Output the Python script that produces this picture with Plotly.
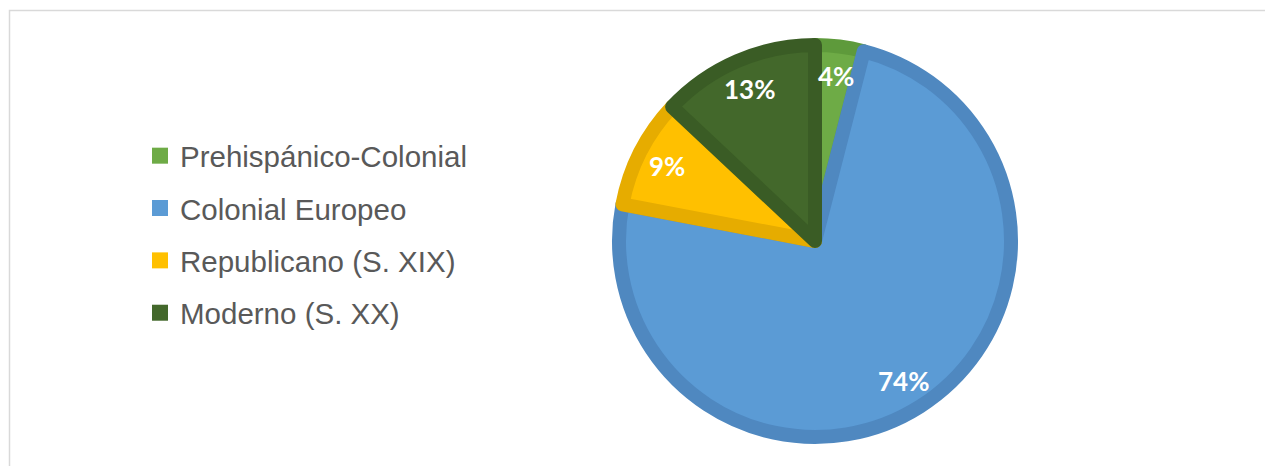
import math
import plotly.graph_objects as go

# ---- data ----
labels = ["Prehispánico-Colonial", "Colonial Europeo", "Republicano (S. XIX)", "Moderno (S. XX)"]
values = [4, 74, 9, 13]
pct_labels = ["4%", "74%", "9%", "13%"]

# ---- styles ----
fill_colors = ["#6EAB46", "#5B9BD5", "#FFC000", "#43682B"]
edge_colors = ["#5E9A3B", "#4F88C0", "#E6AC00", "#3A5C25"]

W, H = 1273, 466
OFF = 8                    # page body margin
cx, cy = 815 - OFF, 241 - OFF   # pie centre in figure pixels (from top-left)
line_w = 14
r_geom = 203 - line_w / 2  # geometric radius in pixels
label_r = 166              # radius for percent labels

fig = go.Figure()

fig.add_trace(go.Pie(
    labels=labels,
    values=values,
    sort=False,
    direction="clockwise",
    rotation=0,
    textinfo="none",
    hoverinfo="label+percent",
    marker=dict(colors=fill_colors, line=dict(color=edge_colors, width=line_w)),
    domain=dict(x=[(cx - r_geom) / W, (cx + r_geom) / W],
                y=[1 - (cy + r_geom) / H, 1 - (cy - r_geom) / H]),
    showlegend=False,
))

# legend entries (one group per category, to control spacing)
for lab, col in zip(labels, fill_colors):
    fig.add_trace(go.Scatter(
        x=[None], y=[None], mode="markers", name=lab, legendgroup=lab,
        marker=dict(symbol="square", size=16, color=col),
        showlegend=True,
    ))

# percent labels placed at the middle angle of each slice
total = sum(values)
cum = 0
annotations = []
for v, txt in zip(values, pct_labels):
    mid = (cum + v / 2) / total * 2 * math.pi
    cum += v
    px = cx + label_r * math.sin(mid)
    py = cy - label_r * math.cos(mid)
    annotations.append(dict(
        x=px / W, y=1 - py / H, xref="paper", yref="paper",
        text=txt, showarrow=False, xanchor="center", yanchor="middle",
        font=dict(family="Lato", size=26, color="white", weight="bold"),
    ))

fig.update_layout(
    width=W, height=H,
    margin=dict(l=0, r=0, t=0, b=0),
    paper_bgcolor="white",
    plot_bgcolor="white",
    xaxis=dict(visible=False),
    yaxis=dict(visible=False),
    legend=dict(
        x=(140 - OFF) / W, xanchor="left",
        y=1 - (234.5 - OFF) / H, yanchor="middle",
        font=dict(family="Liberation Sans", size=29.5, color="#595959"),
        tracegroupgap=11,
        traceorder="grouped",
        bgcolor="rgba(0,0,0,0)",
    ),
    annotations=annotations,
    shapes=[dict(
        type="rect", xref="paper", yref="paper",
        x0=(9.5 - OFF) / W, x1=(1271.5 - OFF) / W, y0=-0.05, y1=1 - (10.5 - OFF) / H,
        line=dict(color="#D9D9D9", width=1.5), fillcolor="rgba(0,0,0,0)",
        layer="below",
    )],
)

fig.write_html("out.html")
